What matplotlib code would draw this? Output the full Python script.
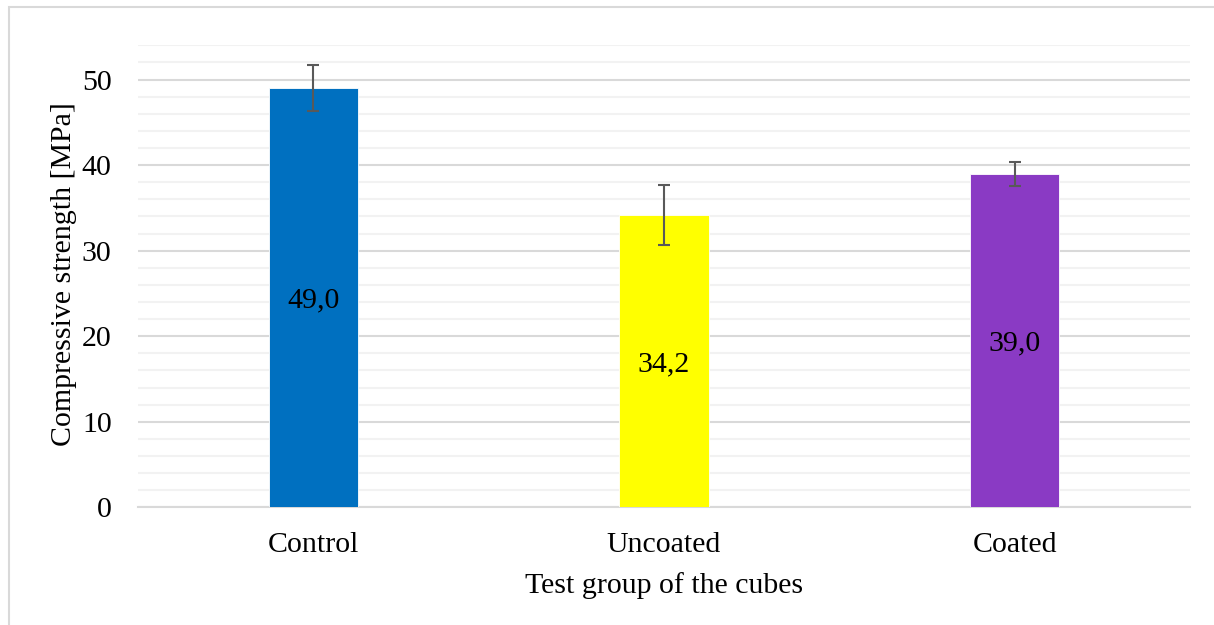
import matplotlib.pyplot as plt
from matplotlib.patches import Rectangle
from matplotlib.ticker import MultipleLocator

# compressive strength of the cube test groups
groups = ["Control", "Uncoated", "Coated"]
strength = [49.0, 34.2, 39.0]
strength_err = [2.65, 3.5, 1.4]
bar_colors = ["#0070C0", "#FFFF00", "#8A3AC4"]

plt.rcParams["font.family"] = ["Liberation Serif", "DejaVu Serif"]
fs = 21.5

fig = plt.figure(figsize=(12.14, 6.25), dpi=100)
ax = fig.add_axes([0.1137, 0.1883, 0.8665, 0.7392])

# light frame around the whole chart, like the Excel chart area
fig.patches.append(
    Rectangle((9 / 1214, -0.01), 1.02, 1 - 7 / 625 + 0.01,
              transform=fig.transFigure, fill=False,
              edgecolor="#d9d9d9", linewidth=1.5)
)

x = range(len(groups))
ax.bar(x, strength, width=0.254, color=bar_colors, edgecolor="white",
       linewidth=0.6, zorder=3)
ax.errorbar(x, strength, yerr=strength_err, fmt="none", ecolor="#595959",
            elinewidth=1.5, capsize=4.2, capthick=1.5, zorder=4)

# value labels in the middle of each bar
for xi, val in zip(x, strength):
    ax.text(xi, val / 2, f"{val:.1f}".replace(".", ","), ha="center",
            va="center_baseline", fontsize=fs, zorder=5)

ax.set_xlim(-0.5, 2.5)
ax.set_ylim(0, 54)
ax.yaxis.set_major_locator(MultipleLocator(10))
ax.yaxis.set_minor_locator(MultipleLocator(2))
ax.grid(axis="y", which="minor", color="#f2f2f2", linewidth=1.5, zorder=0)
ax.grid(axis="y", which="major", color="#d9d9d9", linewidth=1.5, zorder=1)
ax.set_axisbelow(True)

for side in ["top", "right", "left"]:
    ax.spines[side].set_visible(False)
ax.spines["bottom"].set_color("#d9d9d9")
ax.spines["bottom"].set_linewidth(1.5)

ax.set_xticks(list(x))
ax.set_xticklabels(groups)
ax.tick_params(axis="both", which="both", length=0, labelsize=fs)
ax.tick_params(axis="y", pad=19)
ax.tick_params(axis="x", pad=18)

ax.set_xlabel("Test group of the cubes", fontsize=fs, labelpad=10)
ax.set_ylabel("Compressive strength [MPa]", fontsize=fs)
ax.yaxis.set_label_coords(-0.058, 0.505)

plt.savefig("out.png", dpi=100)
